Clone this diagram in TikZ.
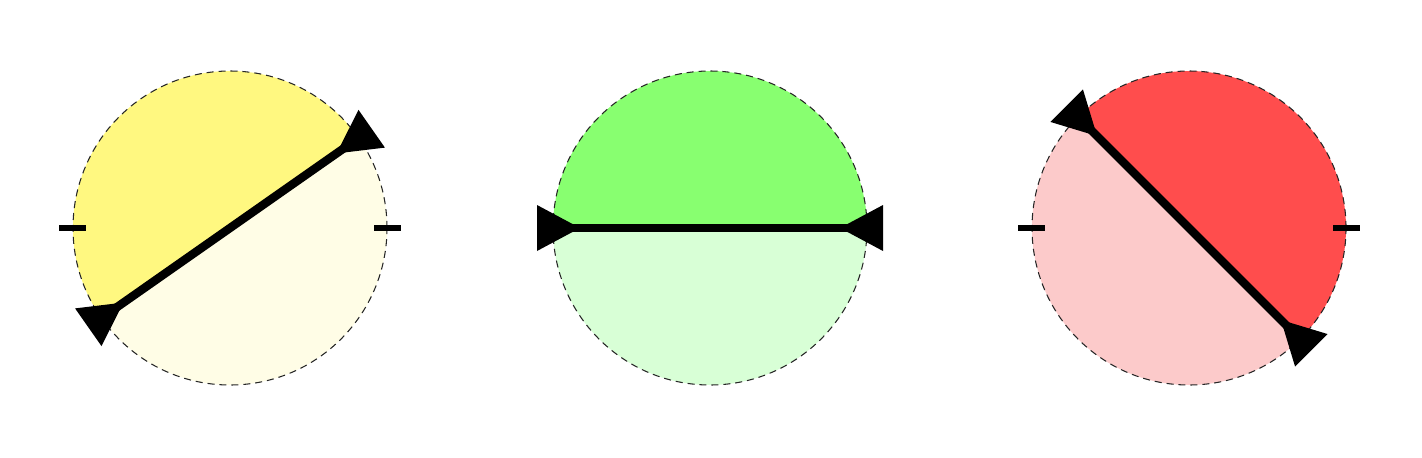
\documentclass[tikz,border=0pt]{standalone}
\usetikzlibrary{calc}
\definecolor{ydark}{RGB}{255,248,128}
\definecolor{ylight}{RGB}{255,253,230}
\definecolor{gdark}{RGB}{136,255,112}
\definecolor{glight}{RGB}{216,255,214}
\definecolor{rdark}{RGB}{255,77,77}
\definecolor{rlight}{RGB}{252,202,202}
\begin{document}
\begin{tikzpicture}[x=0.01cm,y=0.01cm,
  rim/.style={draw=black!85, line width=0.3pt, dash pattern=on 2pt off 1.4pt},
  axisline/.style={line width=2.4pt},
  tickmark/.style={line width=1.85pt},
  headfill/.style={fill=black}]
\useasboundingbox (0,0) rectangle (1422,457);
\foreach \cx/\a/\dk/\lt/\tk in {230/35/ydark/ylight/1, 710/0/gdark/glight/0, 1189/-45/rdark/rlight/1}{
  \begin{scope}[shift={(\cx,229)}]
    \coordinate (c) at (0,0);
    \fill[\dk] (c) ++(\a:157) arc[start angle=\a, end angle=\a+180, radius=157] -- cycle;
    \fill[\lt] (c) ++(\a+180:157) arc[start angle=\a+180, end angle=\a+360, radius=157] -- cycle;
    \draw[rim] (c) circle[radius=157];
    \ifnum\tk=1
      \draw[tickmark] (-171,0) -- (-144,0);
      \draw[tickmark] (144,0) -- (171,0);
    \fi
    \coordinate (p1) at (\a:130);
    \coordinate (p2) at (\a+180:130);
    \coordinate (q1) at (\a:155);
    \coordinate (q2) at (\a+180:155);
    \draw[axisline] (q1) -- (q2);
    \fill[headfill] (p1) -- ($(\a:173)+(\a+90:23)$) -- ($(\a:173)+(\a-90:23)$) -- cycle;
    \fill[headfill] (p2) -- ($(\a+180:173)+(\a+90:23)$) -- ($(\a+180:173)+(\a-90:23)$) -- cycle;
  \end{scope}
}
\end{tikzpicture}
\end{document}
